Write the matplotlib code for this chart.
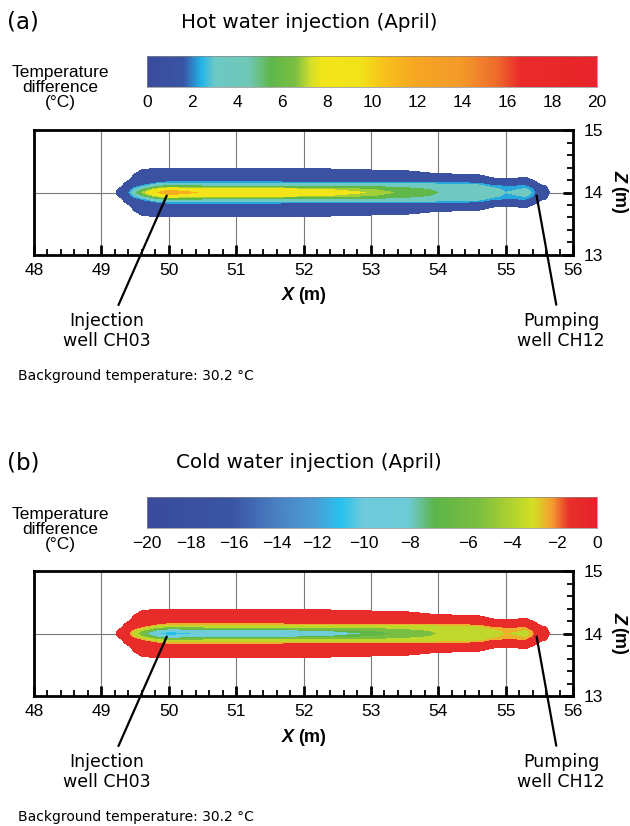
import numpy as np
import matplotlib
matplotlib.use("Agg")
import matplotlib.pyplot as plt
from matplotlib.colors import LinearSegmentedColormap
from matplotlib.ticker import MultipleLocator

# ---- data ----
# mesh nodes along the plume axis (m) and distance from the axis (m)
x_nodes = [49.0, 49.2, 49.3, 49.4, 49.5, 49.6, 49.8, 50.0, 50.5, 51.0, 51.5, 52.0, 52.5,
           53.0, 53.5, 54.0, 54.3, 54.6, 54.8, 55.0, 55.2, 55.3, 55.4, 55.5, 55.7]
z_offsets = [0.0, 0.05, 0.10, 0.15, 0.20, 0.30, 0.40]
z_axis = 14.0

# temperature difference (degC), one row per x node, columns = z_offsets
dT_hot = [
    [0.0, 0.0, 0.0, 0.0, 0.0, 0.0, 0.0],
    [0.1, 0.05, 0.0, 0.0, 0.0, 0.0, 0.0],
    [0.7, 0.4, 0.15, 0.0, 0.0, 0.0, 0.0],
    [1.8, 1.4, 0.9, 0.5, 0.15, 0.0, 0.0],
    [4.0, 2.8, 1.6, 1.0, 0.6, 0.2, 0.0],
    [6.5, 4.5, 2.2, 1.4, 1.0, 0.5, 0.05],
    [9.5, 7.5, 4.0, 2.0, 1.4, 0.7, 0.1],
    [12.5, 9.0, 5.5, 2.4, 1.5, 0.8, 0.12],
    [9.6, 8.6, 4.8, 2.3, 1.5, 0.8, 0.12],
    [9.2, 8.3, 4.7, 2.3, 1.5, 0.8, 0.12],
    [8.8, 8.0, 4.6, 2.3, 1.5, 0.75, 0.1],
    [8.4, 7.6, 4.6, 2.3, 1.4, 0.7, 0.08],
    [7.9, 7.1, 4.5, 2.3, 1.4, 0.65, 0.05],
    [7.2, 6.5, 4.4, 2.3, 1.3, 0.5, 0.0],
    [6.0, 5.4, 4.0, 2.3, 1.2, 0.4, 0.0],
    [4.6, 4.3, 3.6, 2.2, 1.1, 0.2, 0.0],
    [4.0, 3.8, 3.3, 2.1, 1.0, 0.15, 0.0],
    [4.2, 3.8, 3.0, 2.0, 0.8, 0.1, 0.0],
    [3.5, 3.0, 2.3, 1.2, 0.3, 0.0, 0.0],
    [2.6, 2.4, 2.0, 1.0, 0.25, 0.0, 0.0],
    [3.0, 2.6, 2.1, 1.0, 0.3, 0.0, 0.0],
    [3.4, 2.8, 2.1, 1.1, 0.35, 0.0, 0.0],
    [2.4, 2.1, 1.5, 0.8, 0.2, 0.0, 0.0],
    [0.8, 0.6, 0.4, 0.1, 0.0, 0.0, 0.0],
    [0.0, 0.0, 0.0, 0.0, 0.0, 0.0, 0.0],
]
dT_cold = [
    [0.0, 0.0, 0.0, 0.0, 0.0, 0.0, 0.0],
    [-0.1, -0.05, 0.0, 0.0, 0.0, 0.0, 0.0],
    [-0.7, -0.4, -0.15, 0.0, 0.0, 0.0, 0.0],
    [-1.8, -1.4, -0.9, -0.5, -0.15, 0.0, 0.0],
    [-4.0, -2.8, -1.6, -1.0, -0.6, -0.2, 0.0],
    [-6.5, -4.5, -2.2, -1.4, -1.0, -0.5, -0.05],
    [-9.5, -7.5, -4.0, -2.0, -1.4, -0.7, -0.1],
    [-12.0, -9.0, -5.5, -2.4, -1.5, -0.8, -0.12],
    [-9.6, -8.6, -4.8, -2.3, -1.5, -0.8, -0.12],
    [-9.2, -8.3, -4.7, -2.3, -1.5, -0.8, -0.12],
    [-8.8, -8.0, -4.6, -2.3, -1.5, -0.75, -0.1],
    [-8.4, -7.6, -4.6, -2.3, -1.4, -0.7, -0.08],
    [-7.9, -7.1, -4.5, -2.3, -1.4, -0.65, -0.05],
    [-7.2, -6.5, -4.4, -2.3, -1.3, -0.5, 0.0],
    [-6.0, -5.4, -4.0, -2.3, -1.2, -0.4, 0.0],
    [-4.6, -4.3, -3.6, -2.2, -1.1, -0.2, 0.0],
    [-4.0, -3.8, -3.3, -2.1, -1.0, -0.15, 0.0],
    [-4.2, -3.8, -3.0, -2.0, -0.8, -0.1, 0.0],
    [-3.5, -3.0, -2.3, -1.2, -0.3, 0.0, 0.0],
    [-2.6, -2.4, -2.0, -1.0, -0.25, 0.0, 0.0],
    [-3.0, -2.6, -2.1, -1.0, -0.3, 0.0, 0.0],
    [-3.4, -2.8, -2.1, -1.1, -0.35, 0.0, 0.0],
    [-2.4, -2.1, -1.5, -0.8, -0.2, 0.0, 0.0],
    [-0.8, -0.6, -0.4, -0.1, 0.0, 0.0, 0.0],
    [0.0, 0.0, 0.0, 0.0, 0.0, 0.0, 0.0],
]

hot_levels = [0.2, 2.0, 2.6, 4.6, 6.4, 7.3, 10.0, 14.0]
cold_levels = [-14.0, -10.0, -7.3, -6.4, -4.6, -2.6, -2.0, -0.2]
hot_band_vals = [1.0, 2.3, 3.6, 5.6, 6.9, 8.6, 11.5]
cold_band_vals = [-11.0, -8.8, -7.0, -5.8, -3.6, -2.4, -1.0]

hot_ticks = [0, 2, 4, 6, 8, 10, 12, 14, 16, 18, 20]
cold_ticks = [-20, -18, -16, -14, -12, -10, -8, -6, -4, -2, 0]

# ---- style ----
hot_tick_pos = np.linspace(0, 1, len(hot_ticks))
cold_tick_pos = [0, 0.097, 0.192, 0.289, 0.377, 0.482, 0.584, 0.714, 0.811, 0.910, 1.0]

hot_cmap = LinearSegmentedColormap.from_list("hot_cb", [
    (0.0, "#3a4c9c"), (0.08, "#3b55a5"), (0.12, "#23b6e9"), (0.15, "#6ec9c6"),
    (0.225, "#70c8b6"), (0.275, "#5fb74a"), (0.33, "#7cc043"), (0.365, "#d6e02a"),
    (0.39, "#f1e619"), (0.475, "#f2e31a"), (0.53, "#f8c01b"), (0.6, "#f6a623"),
    (0.7, "#f39a2a"), (0.78, "#ee6a2b"), (0.83, "#ea2b2c"), (1.0, "#e8252a")])
cold_cmap = LinearSegmentedColormap.from_list("cold_cb", [
    (0.0, "#3a4c9c"), (0.19, "#3b55a5"), (0.29, "#4a82c4"), (0.375, "#4a9ed6"),
    (0.43, "#28c2ef"), (0.48, "#6ecbdc"), (0.58, "#6fccd8"), (0.64, "#5cb548"),
    (0.74, "#7cbf40"), (0.86, "#d4e024"), (0.90, "#f4a030"), (0.94, "#e8302a"),
    (1.0, "#e8222a")])

W, H = 630, 826
SANS = "Liberation Sans"
VERD = "DejaVu Sans"


def fx(px):
    return px / W


def fy(py):
    return 1 - py / H


def full_field(table):
    t = np.array(table)
    off = np.array(z_offsets)
    z = z_axis + np.concatenate([-off[::-1][:-1], off])
    f = np.concatenate([t[:, ::-1][:, :-1], t], axis=1)
    return z, f


fig = plt.figure(figsize=(W / 100, H / 100), dpi=100)

panels = [
    ("(a)", "Hot water injection (April)", dT_hot, hot_levels, hot_band_vals,
     hot_cmap, hot_ticks, hot_tick_pos, 0),
    ("(b)", "Cold water injection (April)", dT_cold, cold_levels, cold_band_vals,
     cold_cmap, cold_ticks, cold_tick_pos, 441),
]

for tag, title, table, levels, band_vals, cmap, ticks, tick_pos, dy in panels:
    # header
    fig.text(fx(7), fy(22 + dy), tag, fontsize=16.5, family=VERD, va="center", ha="left")
    fig.text(fx(309), fy(22 + dy), title, fontsize=14.3, family=VERD, va="center", ha="center")
    fig.text(fx(60), fy(88 + dy), "Temperature\ndifference\n(°C)", fontsize=12.5,
             family=SANS, va="center", ha="center", linespacing=1.0)

    # colour bar
    cax = fig.add_axes([fx(147), fy(87 + dy), fx(597) - fx(147), 31 / H])
    grad = np.linspace(0, 1, 512)[None, :]
    cax.imshow(grad, aspect="auto", cmap=cmap, extent=[0, 1, 0, 1])
    cax.set_xlim(0, 1)
    cax.set_yticks([])
    cax.set_xticks(tick_pos)
    cax.set_xticklabels([str(t).replace("-", "\u2212") for t in ticks],
                        fontsize=12.5, family=SANS)
    cax.tick_params(axis="x", length=0, pad=6)
    for s in cax.spines.values():
        s.set_linewidth(0.5)
        s.set_color("#888888")

    # plume axes
    ax = fig.add_axes([fx(34), fy(255 + dy), fx(573) - fx(34), 125 / H])
    z, f = full_field(table)
    colors = [cmap(np.interp(v, ticks, tick_pos)) for v in band_vals]
    ax.contourf(x_nodes, z, f.T, levels=levels, colors=colors, zorder=2)

    ax.set_xlim(48, 56)
    ax.set_ylim(13, 15)
    ax.set_axisbelow(True)
    ax.grid(axis="x", color="#7a7a7a", linewidth=0.8)
    ax.axhline(z_axis, color="#7a7a7a", linewidth=0.8, zorder=0.5)
    ax.xaxis.set_major_locator(MultipleLocator(1))
    ax.xaxis.set_minor_locator(MultipleLocator(0.2))
    ax.yaxis.set_major_locator(MultipleLocator(1))
    ax.yaxis.set_minor_locator(MultipleLocator(0.2))
    ax.yaxis.tick_right()
    ax.tick_params(which="both", direction="in", top=False, left=False,
                   bottom=True, right=True, labelsize=12.5)
    ax.tick_params(which="major", length=7, width=2)
    ax.tick_params(which="minor", length=4, width=1.3)
    ax.tick_params(axis="x", which="major", pad=6)
    ax.tick_params(axis="y", which="major", pad=8)
    for lab in ax.get_xticklabels() + ax.get_yticklabels():
        lab.set_family(SANS)
    for s in ax.spines.values():
        s.set_linewidth(2.0)

    # axis titles
    fig.text(fx(294), fy(296 + dy), "X", fontsize=13, family=SANS, weight="bold",
             style="italic", ha="right", va="center")
    fig.text(fx(298), fy(296 + dy), "(m)", fontsize=13, family=SANS, weight="bold",
             ha="left", va="center")
    fig.text(fx(619), fy(176 + dy), "Z", fontsize=13, family=SANS, weight="bold",
             style="italic", ha="center", va="center", rotation=270)
    fig.text(fx(619), fy(200 + dy), "(m)", fontsize=13, family=SANS, weight="bold",
             ha="center", va="center", rotation=270)

    # well annotations
    ax.annotate("Injection\nwell CH03", xy=(49.97, 13.95), xycoords="data",
                xytext=(fx(107), fy(331 + dy)), textcoords="figure fraction",
                ha="center", va="center", fontsize=12.5, family=VERD, linespacing=1.2,
                arrowprops=dict(arrowstyle="-", color="black", lw=1.6,
                                shrinkA=3, shrinkB=0))
    ax.annotate("Pumping\nwell CH12", xy=(55.46, 13.95), xycoords="data",
                xytext=(fx(561), fy(331 + dy)), textcoords="figure fraction",
                ha="center", va="center", fontsize=12.5, family=VERD, linespacing=1.2,
                arrowprops=dict(arrowstyle="-", color="black", lw=1.6,
                                shrinkA=3, shrinkB=0))

    fig.text(fx(18), fy(376 + dy), "Background temperature: 30.2 °C", fontsize=10,
             family=VERD, ha="left", va="center")

fig.savefig("out.png", dpi=100)
